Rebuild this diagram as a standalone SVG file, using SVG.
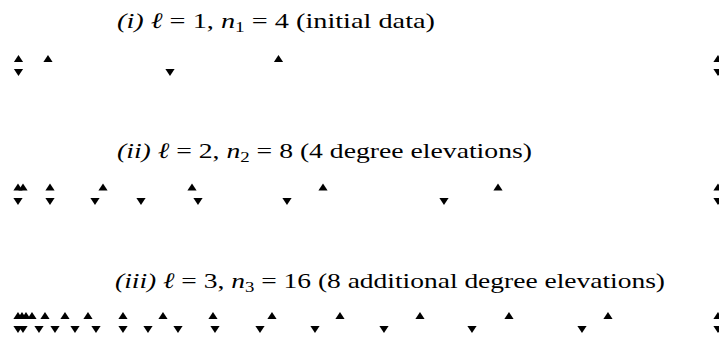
<svg xmlns="http://www.w3.org/2000/svg" width="719" height="339" viewBox="0 0 719 339">
<style>
.t{font-family:"Liberation Serif","Times New Roman",serif;font-size:22px;fill:#000}
.i{font-style:italic}
.s{font-size:15px}
</style>
<defs>
<path id="up" d="M-4.6,3.6 L4.6,3.6 L0,-3.6 Z" fill="#000"/>
<path id="dn" d="M-4.6,-3.6 L4.6,-3.6 L0,3.6 Z" fill="#000"/>
</defs>
<rect width="719" height="339" fill="#fff"/>

<g id="row1">
<text class="t" x="117" y="28" textLength="318" lengthAdjust="spacingAndGlyphs"><tspan class="i">(i) ℓ</tspan> = 1, <tspan class="i">n</tspan><tspan class="s" dy="4">1</tspan><tspan dy="-4"> = 4 (initial data)</tspan></text>
<use href="#up" x="18.5" y="58.5"/>
<use href="#up" x="48" y="58.5"/>
<use href="#up" x="278.5" y="58.5"/>
<use href="#up" x="718" y="58.5"/>
<use href="#dn" x="18.5" y="72.5"/>
<use href="#dn" x="170" y="72.5"/>
<use href="#dn" x="718" y="72.5"/>
</g>

<g id="row2">
<text class="t" x="117" y="158" textLength="415" lengthAdjust="spacingAndGlyphs"><tspan class="i">(ii) ℓ</tspan> = 2, <tspan class="i">n</tspan><tspan class="s" dy="4">2</tspan><tspan dy="-4"> = 8 (4 degree elevations)</tspan></text>
<use href="#up" x="18" y="187"/>
<use href="#up" x="23" y="187"/>
<use href="#up" x="50" y="187"/>
<use href="#up" x="103" y="187"/>
<use href="#up" x="192" y="187"/>
<use href="#up" x="323" y="187"/>
<use href="#up" x="498" y="187"/>
<use href="#up" x="718" y="187"/>
<use href="#dn" x="18" y="201.5"/>
<use href="#dn" x="50" y="201.5"/>
<use href="#dn" x="95" y="201.5"/>
<use href="#dn" x="141" y="201.5"/>
<use href="#dn" x="198" y="201.5"/>
<use href="#dn" x="287" y="201.5"/>
<use href="#dn" x="444" y="201.5"/>
<use href="#dn" x="718" y="201.5"/>
</g>

<g id="row3">
<text class="t" x="115" y="288" textLength="550" lengthAdjust="spacingAndGlyphs"><tspan class="i">(iii) ℓ</tspan> = 3, <tspan class="i">n</tspan><tspan class="s" dy="4">3</tspan><tspan dy="-4"> = 16 (8 additional degree elevations)</tspan></text>
<use href="#up" x="18" y="315.5"/>
<use href="#up" x="22" y="315.5"/>
<use href="#up" x="26" y="315.5"/>
<use href="#up" x="32" y="315.5"/>
<use href="#up" x="45" y="315.5"/>
<use href="#up" x="65" y="315.5"/>
<use href="#up" x="88" y="315.5"/>
<use href="#up" x="123" y="315.5"/>
<use href="#up" x="163" y="315.5"/>
<use href="#up" x="213" y="315.5"/>
<use href="#up" x="272" y="315.5"/>
<use href="#up" x="340" y="315.5"/>
<use href="#up" x="420" y="315.5"/>
<use href="#up" x="509" y="315.5"/>
<use href="#up" x="608" y="315.5"/>
<use href="#up" x="718" y="315.5"/>
<use href="#dn" x="18" y="329.5"/>
<use href="#dn" x="23" y="329.5"/>
<use href="#dn" x="39" y="329.5"/>
<use href="#dn" x="55" y="329.5"/>
<use href="#dn" x="75" y="329.5"/>
<use href="#dn" x="96" y="329.5"/>
<use href="#dn" x="123" y="329.5"/>
<use href="#dn" x="148" y="329.5"/>
<use href="#dn" x="178" y="329.5"/>
<use href="#dn" x="215" y="329.5"/>
<use href="#dn" x="260" y="329.5"/>
<use href="#dn" x="315" y="329.5"/>
<use href="#dn" x="384" y="329.5"/>
<use href="#dn" x="472" y="329.5"/>
<use href="#dn" x="582" y="329.5"/>
<use href="#dn" x="718" y="329.5"/>
</g>
</svg>
